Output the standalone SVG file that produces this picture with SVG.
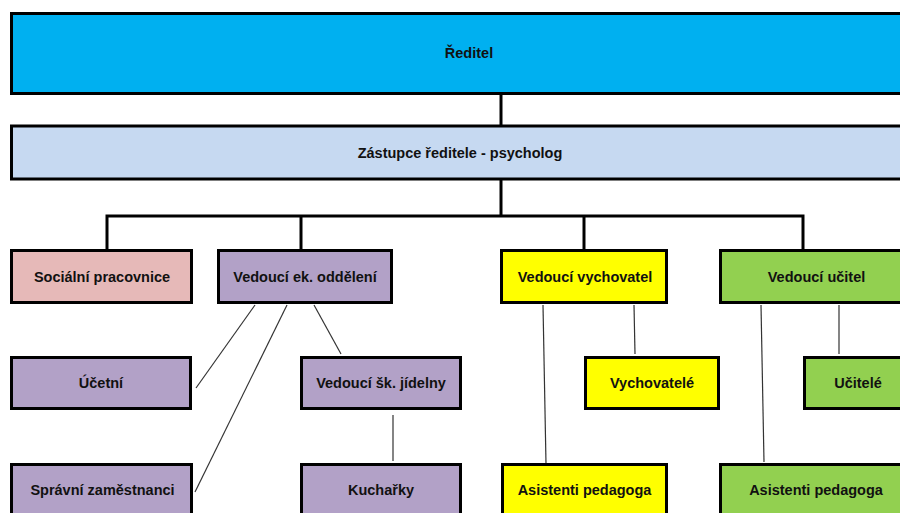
<svg xmlns="http://www.w3.org/2000/svg" width="900" height="513" viewBox="0 0 900 513">
<style>
.box{stroke:#000;stroke-width:3}
.t{font-family:"Liberation Sans",Arial,sans-serif;font-weight:bold;font-size:14.5px;fill:#111;text-anchor:middle}
.bus{stroke:#000;stroke-width:3;fill:none}
.thin{stroke:#333;stroke-width:1.2;fill:none}
</style>
<rect width="900" height="513" fill="#fff"/>
<g id="connectors">
<line class="bus" x1="501" y1="93" x2="501" y2="126"/>
<line class="bus" x1="501" y1="179" x2="501" y2="216"/>
<polyline class="bus" points="107,250 107,216 803,216 803,250"/>
<line class="bus" x1="301" y1="216" x2="301" y2="250"/>
<line class="bus" x1="584" y1="216" x2="584" y2="250"/>
<line class="thin" x1="255" y1="305" x2="196" y2="388"/>
<line class="thin" x1="287" y1="305" x2="195" y2="492"/>
<line class="thin" x1="314" y1="305" x2="341" y2="354"/>
<line class="thin" x1="393" y1="415" x2="393" y2="461"/>
<line class="thin" x1="543" y1="305" x2="546" y2="464"/>
<line class="thin" x1="634" y1="305" x2="635" y2="354"/>
<line class="thin" x1="761" y1="305" x2="764" y2="462"/>
<line class="thin" x1="839" y1="305" x2="839" y2="354"/>
</g>
<g id="reditel"><rect class="box" x="11.5" y="13.5" width="915" height="80" fill="#00B0F0"/><text class="t" x="469" y="58">Ředitel</text></g>
<g id="zastupce"><rect class="box" x="11.5" y="126" width="915" height="53" fill="#C6D9F1"/><text class="t" x="460" y="158">Zástupce ředitele - psycholog</text></g>
<g id="socialni"><rect class="box" x="11.5" y="250.5" width="180" height="52" fill="#E6B9B8"/><text class="t" x="102" y="282">Sociální pracovnice</text></g>
<g id="vedouci-ek"><rect class="box" x="218.5" y="250.5" width="173" height="52" fill="#B2A1C7"/><text class="t" x="305" y="282">Vedoucí ek. oddělení</text></g>
<g id="vedouci-vych"><rect class="box" x="501.5" y="250.5" width="165" height="52" fill="#FFFF00"/><text class="t" x="585" y="282">Vedoucí vychovatel</text></g>
<g id="vedouci-ucitel"><rect class="box" x="720.5" y="250.5" width="200" height="52" fill="#92D050"/><text class="t" x="816.5" y="282">Vedoucí učitel</text></g>
<g id="ucetni"><rect class="box" x="11.5" y="357.5" width="179" height="51" fill="#B2A1C7"/><text class="t" x="101" y="388">Účetní</text></g>
<g id="jidelna"><rect class="box" x="301.5" y="357.5" width="159" height="51" fill="#B2A1C7"/><text class="t" x="381" y="388">Vedoucí šk. jídelny</text></g>
<g id="vychovatele"><rect class="box" x="585.5" y="357.5" width="133" height="51" fill="#FFFF00"/><text class="t" x="652" y="388">Vychovatelé</text></g>
<g id="ucitele"><rect class="box" x="804.5" y="357.5" width="120" height="51" fill="#92D050"/><text class="t" x="858" y="388">Učitelé</text></g>
<g id="spravni"><rect class="box" x="11.5" y="464.5" width="180" height="60" fill="#B2A1C7"/><text class="t" x="102.5" y="495">Správní zaměstnanci</text></g>
<g id="kucharky"><rect class="box" x="301.5" y="464.5" width="159" height="60" fill="#B2A1C7"/><text class="t" x="381" y="495">Kuchařky</text></g>
<g id="asistenti-y"><rect class="box" x="502.5" y="464.5" width="164" height="60" fill="#FFFF00"/><text class="t" x="584.5" y="495">Asistenti pedagoga</text></g>
<g id="asistenti-g"><rect class="box" x="720.5" y="464.5" width="200" height="60" fill="#92D050"/><text class="t" x="816" y="495">Asistenti pedagoga</text></g>
</svg>
